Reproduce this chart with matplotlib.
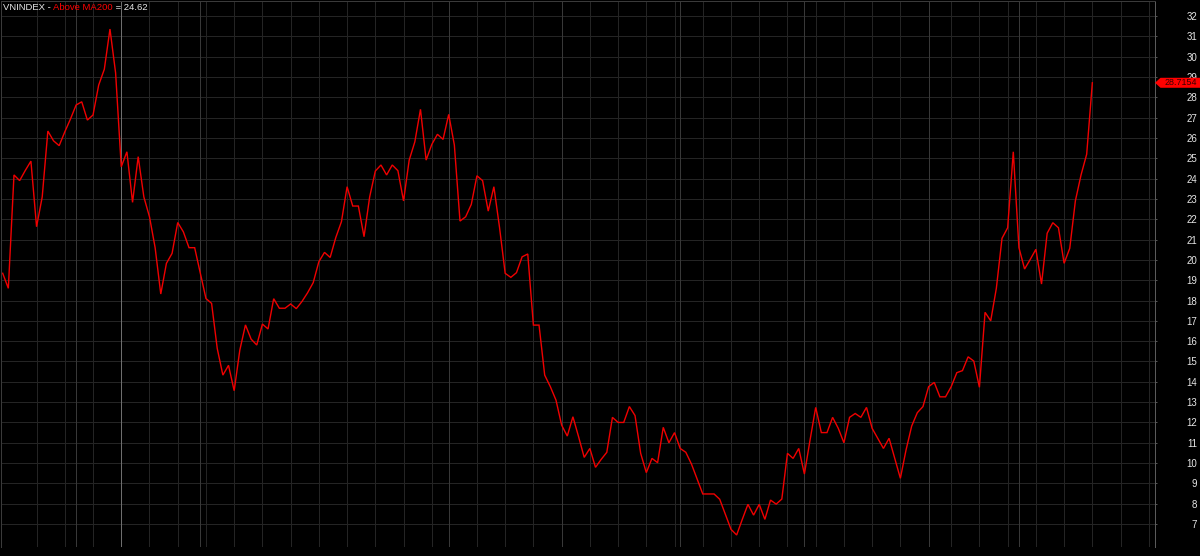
import matplotlib
matplotlib.use("Agg")
import matplotlib.pyplot as plt
from matplotlib.patches import Polygon
from matplotlib.transforms import IdentityTransform
import numpy as np

# ---- data -------------------------------------------------------------
values = [
    19.34, 18.60, 24.18, 23.90, 24.40, 24.86, 21.63, 23.10, 26.34, 25.86,
    25.62, 26.30, 26.93, 27.62, 27.78, 26.88, 27.13, 28.60, 29.38, 31.36,
    29.20, 24.58, 25.32, 22.83, 25.08, 23.10, 22.12, 20.60, 18.32, 19.83,
    20.32, 21.84, 21.38, 20.60, 20.60, 19.34, 18.10, 17.86, 15.64, 14.33,
    14.81, 13.56, 15.56, 16.80, 16.10, 15.81, 16.84, 16.60, 18.09, 17.62,
    17.62, 17.83, 17.60, 17.95, 18.38, 18.88, 19.91, 20.37, 20.12, 21.10,
    21.88, 23.60, 22.65, 22.65, 21.14, 23.10, 24.37, 24.67, 24.18, 24.67,
    24.39, 22.90, 24.91, 25.81, 27.41, 24.91, 25.68, 26.18, 25.93, 27.16,
    25.65, 21.91, 22.12, 22.73, 24.14, 23.90, 22.40, 23.60, 21.60, 19.34,
    19.14, 19.37, 20.15, 20.29, 16.79, 16.79, 14.33, 13.76, 13.10, 11.87,
    11.33, 12.28, 11.30, 10.28, 10.72, 9.79, 10.18, 10.53, 12.25, 12.00,
    12.00, 12.78, 12.34, 10.48, 9.53, 10.23, 10.02, 11.76, 11.00, 11.50,
    10.72, 10.53, 9.95, 9.21, 8.48, 8.48, 8.48, 8.22, 7.48, 6.74,
    6.46, 7.23, 7.97, 7.44, 7.97, 7.23, 8.18, 7.98, 8.23, 10.48,
    10.23, 10.72, 9.46, 11.13, 12.74, 11.50, 11.50, 12.25, 11.71, 11.00,
    12.25, 12.44, 12.25, 12.74, 11.71, 11.22, 10.72, 11.22, 10.23, 9.25,
    10.64, 11.82, 12.48, 12.78, 13.76, 13.97, 13.26, 13.26, 13.76, 14.45,
    14.55, 15.23, 15.02, 13.73, 17.42, 17.00, 18.60, 21.06, 21.58, 25.32,
    20.60, 19.55, 20.02, 20.52, 18.81, 21.31, 21.83, 21.58, 19.83, 20.57,
    22.91, 24.18, 25.20, 28.7154,
]
week_lines = [6, 11, 16, 26, 31, 36, 41, 46, 51, 56, 61, 66, 71, 76, 84, 89,
              94, 104, 109, 114, 119, 124, 129, 134, 139, 144, 149, 154, 159,
              168, 173, 178, 183, 188, 193, 198, 203]
month_lines = [13, 35, 79, 99, 120, 142, 164, 180]
year_lines = [21]
y_ticks = list(range(7, 33))
title_parts = ["VNINDEX - ", "Above MA200", " = 24.62"]

# ---- figure -------------------------------------------------------------
W, H = 1200, 556
FONT = "Liberation Sans"
fig = plt.figure(figsize=(W / 100, H / 100), dpi=100, facecolor="black")
ax = fig.add_axes([1 / W, 9 / H, 1154 / W, 546 / H], facecolor="black")

x = np.arange(len(values))
ax.set_xlim(-0.3, 204.1)
ax.set_ylim(5.87, 32.74)

# grid
for v in y_ticks:
    ax.axhline(v, color="#242424", lw=0.72, zorder=1)
for p in week_lines:
    ax.axvline(p, color="#242424", lw=0.72, zorder=1)
for p in month_lines:
    ax.axvline(p, color="#383838", lw=0.72, zorder=1)
for p in year_lines:
    ax.axvline(p, color="#6e6e6e", lw=0.72, zorder=1)

ax.plot(x, values, color="#f00000", lw=1.0, zorder=3, solid_joinstyle="miter")

# axes styling
ax.set_xticks([])
ax.yaxis.tick_right()
ax.set_yticks(y_ticks)
ax.set_yticklabels([str(v) for v in y_ticks], fontsize=7, family=FONT)
ax.tick_params(axis="y", colors="#555555", labelcolor="#e6e6e6",
               length=1.5, width=0.72, pad=28.7)
for lab in ax.get_yticklabels():
    lab.set_horizontalalignment("right")
for side in ["left", "top"]:
    ax.spines[side].set_color("#3a3a3a")
    ax.spines[side].set_linewidth(0.72)
ax.spines["right"].set_color("#5a5a5a")
ax.spines["right"].set_linewidth(0.72)
ax.spines["bottom"].set_visible(False)

# title (multi-coloured)
TS = 6.8
t1 = fig.text(3 / W, 1 - 12 / H, title_parts[0], color="#e8e8e8",
              fontsize=TS, family=FONT, va="bottom", ha="left")
a2 = ax.annotate(title_parts[1], xy=(1, 0), xycoords=t1, va="bottom", ha="left",
                 color="#ff0000", fontsize=TS, family=FONT, annotation_clip=False)
a3 = ax.annotate(title_parts[2], xy=(1, 0), xycoords=a2, va="bottom", ha="left",
                 color="#e8e8e8", fontsize=TS, family=FONT, annotation_clip=False)

# last value marker on the right axis
xa = ax.transAxes.transform((1, 0))[0]
yc = ax.transData.transform((0, values[-1]))[1]
poly = Polygon([(xa, yc), (xa + 5.5, yc + 5), (W, yc + 5), (W, yc - 5),
                (xa + 5.5, yc - 5)], closed=True, facecolor="#ff0000",
               edgecolor="none", transform=IdentityTransform(), zorder=5)
fig.add_artist(poly)
fig.text(W - 3, yc, f"{values[-1]:.4f}", transform=IdentityTransform(),
         ha="right", va="center", fontsize=6.4, family=FONT, color="#3a0000",
         zorder=6)

fig.savefig("out.png", dpi=100, facecolor="black")
